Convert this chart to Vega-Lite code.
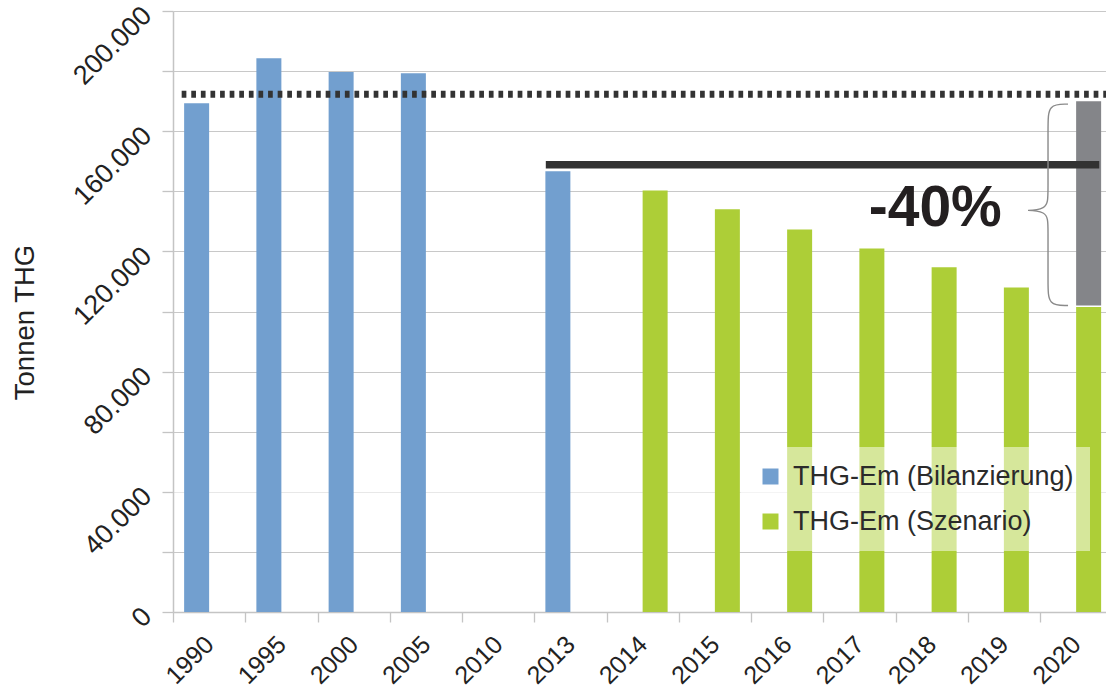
{
  "$schema": "https://vega.github.io/schema/vega-lite/v6.json",
  "width": 933,
  "height": 601,
  "autosize": {"type": "none"},
  "padding": {"left": 173, "top": 11, "right": 0, "bottom": 82},
  "background": "white",
  "config": {
    "view": {"stroke": null},
    "font": "Liberation Sans"
  },
  "datasets": {
    "emissionen": [
      {"jahr": "1990", "reihe": "THG-Em (Bilanzierung)", "wert": 169300},
      {"jahr": "1995", "reihe": "THG-Em (Bilanzierung)", "wert": 184300},
      {"jahr": "2000", "reihe": "THG-Em (Bilanzierung)", "wert": 179700},
      {"jahr": "2005", "reihe": "THG-Em (Bilanzierung)", "wert": 179300},
      {"jahr": "2013", "reihe": "THG-Em (Bilanzierung)", "wert": 146700},
      {"jahr": "2014", "reihe": "THG-Em (Szenario)", "wert": 140300},
      {"jahr": "2015", "reihe": "THG-Em (Szenario)", "wert": 134000},
      {"jahr": "2016", "reihe": "THG-Em (Szenario)", "wert": 127300},
      {"jahr": "2017", "reihe": "THG-Em (Szenario)", "wert": 121000},
      {"jahr": "2018", "reihe": "THG-Em (Szenario)", "wert": 114700},
      {"jahr": "2019", "reihe": "THG-Em (Szenario)", "wert": 108000},
      {"jahr": "2020", "reihe": "THG-Em (Szenario)", "wert": 101500}
    ],
    "ziel": [
      {"jahr": "2020", "reihe": "THG-Em (Szenario)", "basis": 170000, "ziel": 102000}
    ],
    "niveau1990": [
      {"von": 0.12, "bis": 13, "wert": 172300}
    ],
    "niveau2013": [
      {"von": 5.16, "bis": 12.82, "wert": 148800}
    ],
    "klammer": [
      {"n": 1, "pos": 12.388, "wert": 169000},
      {"n": 2, "pos": 12.111, "wert": 169000},
      {"n": 3, "pos": 12.111, "wert": 162000},
      {"n": 4, "pos": 12.111, "wert": 139000},
      {"n": 5, "pos": 12.111, "wert": 133667},
      {"n": 6, "pos": 11.696, "wert": 133667},
      {"n": 7, "pos": 12.111, "wert": 133667},
      {"n": 8, "pos": 12.111, "wert": 128333},
      {"n": 9, "pos": 12.111, "wert": 109000},
      {"n": 10, "pos": 12.111, "wert": 102000},
      {"n": 11, "pos": 12.388, "wert": 102000}
    ],
    "beschriftung": [
      {"text": "-40%", "pos": 10.55, "wert": 128300}
    ]
  },
  "layer": [
    {
      "data": {"name": "emissionen"},
      "mark": {"type": "bar"},
      "encoding": {
        "x": {
          "field": "jahr",
          "type": "nominal",
          "scale": {
            "domain": ["1990", "1995", "2000", "2005", "2010", "2013", "2014", "2015", "2016", "2017", "2018", "2019", "2020"],
            "range": [0, 939.25],
            "paddingInner": 0,
            "paddingOuter": 0
          },
          "axis": {
            "title": null,
            "labelAngle": -45,
            "labelAlign": "right",
            "labelBaseline": "middle",
            "labelFontSize": 25,
            "labelColor": "#222222",
            "labelPadding": 18,
            "tickBand": "extent",
            "tickSize": 10,
            "tickColor": "#c4c4c4",
            "tickWidth": 1.3,
            "domainColor": "#c4c4c4",
            "domainWidth": 1.3,
            "grid": false
          }
        },
        "xOffset": {
          "field": "reihe",
          "type": "nominal",
          "scale": {
            "domain": ["THG-Em (Bilanzierung)", "THG-Em (Szenario)"],
            "paddingInner": 0,
            "paddingOuter": 0.445
          }
        },
        "y": {
          "field": "wert",
          "type": "quantitative",
          "scale": {"domain": [0, 200000], "nice": false},
          "axis": {
            "values": [0, 10000, 20000, 30000, 40000, 50000, 60000, 70000, 80000, 90000, 100000, 110000, 120000, 130000, 140000, 150000, 160000, 170000, 180000, 190000, 200000],
            "labelExpr": "datum.value % 40000 === 0 ? replace(format(datum.value, ','), ',', '.') : ''",
            "labelAngle": -45,
            "labelAlign": "right",
            "labelBaseline": "middle",
            "labelFontSize": 27,
            "labelColor": "#222222",
            "labelPadding": 15,
            "labelOverlap": false,
            "labelFlush": false,
            "tickSize": 11,
            "tickColor": "#c4c4c4",
            "tickWidth": 1.3,
            "domainColor": "#c4c4c4",
            "domainWidth": 1.5,
            "grid": true,
            "gridColor": {
              "condition": {"test": "datum.value >= 30000 && datum.value <= 50000", "value": "#e8e8e8"},
              "value": "#c8c8c8"
            },
            "gridWidth": 1.2,
            "title": "Tonnen THG",
            "titleFontSize": 27.5,
            "titleFontWeight": "normal",
            "titleColor": "#222222",
            "titleAngle": -90,
            "titleAlign": "center",
            "titleBaseline": "alphabetic",
            "titleX": -140,
            "titleY": 311
          }
        },
        "color": {
          "field": "reihe",
          "type": "nominal",
          "scale": {
            "domain": ["THG-Em (Bilanzierung)", "THG-Em (Szenario)"],
            "range": ["#729fcf", "#adce37"]
          },
          "legend": {
            "orient": "none",
            "legendX": 568,
            "legendY": 436,
            "title": null,
            "direction": "vertical",
            "symbolType": "square",
            "symbolSize": 256,
            "symbolStrokeWidth": 0,
            "symbolOpacity": 1,
            "labelFontSize": 27,
            "labelColor": "#2b2b2b",
            "labelOffset": 9,
            "labelLimit": 500,
            "rowPadding": 17,
            "padding": 16,
            "fillColor": "rgba(255,255,255,0.5)"
          }
        }
      }
    },
    {
      "data": {"name": "ziel"},
      "mark": {"type": "bar", "color": "#848589"},
      "encoding": {
        "x": {
          "field": "jahr",
          "type": "nominal",
          "scale": {
            "domain": ["1990", "1995", "2000", "2005", "2010", "2013", "2014", "2015", "2016", "2017", "2018", "2019", "2020"],
            "range": [0, 939.25],
            "paddingInner": 0,
            "paddingOuter": 0
          },
          "axis": null
        },
        "xOffset": {
          "field": "reihe",
          "type": "nominal",
          "scale": {
            "domain": ["THG-Em (Bilanzierung)", "THG-Em (Szenario)"],
            "paddingInner": 0,
            "paddingOuter": 0.445
          }
        },
        "y": {"field": "basis", "type": "quantitative"},
        "y2": {"field": "ziel"}
      }
    },
    {
      "data": {"name": "niveau1990"},
      "mark": {"type": "rule", "color": "#333333", "strokeWidth": 7, "strokeDash": [4.7, 4.9]},
      "encoding": {
        "x": {"field": "von", "type": "quantitative", "scale": {"domain": [0, 13], "range": [0, 939.25], "nice": false, "zero": false}, "axis": null},
        "x2": {"field": "bis"},
        "y": {"field": "wert", "type": "quantitative"}
      }
    },
    {
      "data": {"name": "niveau2013"},
      "mark": {"type": "rule", "color": "#323232", "strokeWidth": 7.5},
      "encoding": {
        "x": {"field": "von", "type": "quantitative", "scale": {"domain": [0, 13], "range": [0, 939.25], "nice": false, "zero": false}, "axis": null},
        "x2": {"field": "bis"},
        "y": {"field": "wert", "type": "quantitative"}
      }
    },
    {
      "data": {"name": "klammer"},
      "mark": {"type": "line", "color": "#8a8a8a", "strokeWidth": 1.4, "interpolate": "basis"},
      "encoding": {
        "x": {"field": "pos", "type": "quantitative", "scale": {"domain": [0, 13], "range": [0, 939.25], "nice": false, "zero": false}, "axis": null},
        "y": {"field": "wert", "type": "quantitative"},
        "order": {"field": "n", "type": "quantitative"}
      }
    },
    {
      "data": {"name": "beschriftung"},
      "mark": {"type": "text", "font": "Liberation Sans", "fontWeight": "bold", "fontSize": 57, "color": "#231f20", "align": "center", "baseline": "alphabetic"},
      "encoding": {
        "x": {"field": "pos", "type": "quantitative", "scale": {"domain": [0, 13], "range": [0, 939.25], "nice": false, "zero": false}, "axis": null},
        "y": {"field": "wert", "type": "quantitative"},
        "text": {"field": "text"}
      }
    }
  ],
  "resolve": {"scale": {"x": "independent"}}
}
